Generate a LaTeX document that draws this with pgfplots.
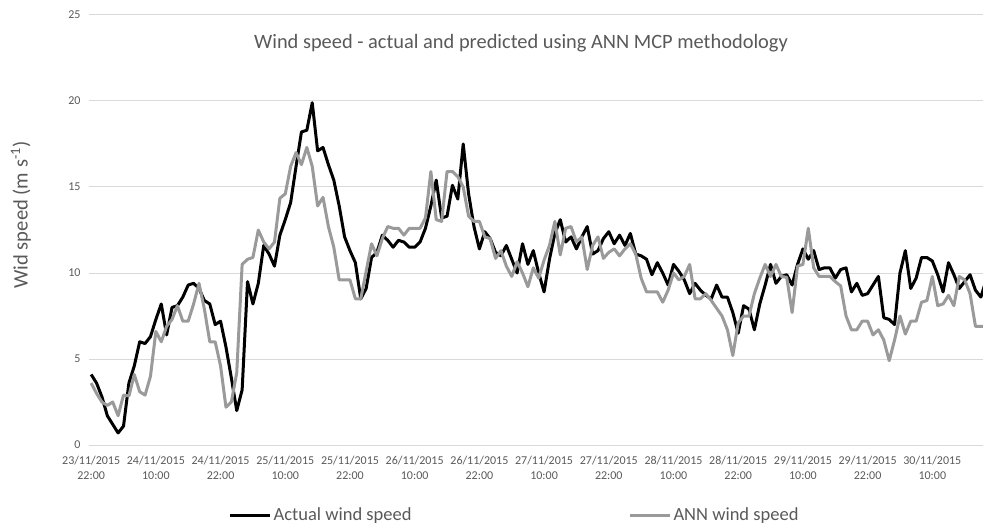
\documentclass[border=0pt]{standalone}
\usepackage{pgfplots}
\usepackage{pgfplotstable}
\pgfplotsset{compat=1.18}
\usepackage{fontspec}
\setmainfont{Carlito}
\definecolor{txtgrey}{HTML}{595959}
\definecolor{gridgrey}{HTML}{D9D9D9}
\definecolor{anngrey}{HTML}{9A9A9A}

% hourly values from 23/11/2015 22:00
\pgfplotstableread{
h act ann
0 4.1 3.6
1 3.6 3.0
2 2.8 2.5
3 1.7 2.3
4 1.2 2.5
5 0.7 1.7
6 1.1 2.9
7 3.6 2.85
8 4.6 4.1
9 6.0 3.1
10 5.9 2.9
11 6.3 4.0
12 7.3 6.6
13 8.2 6.0
14 6.4 6.9
15 8.0 7.3
16 8.1 8.1
17 8.6 7.2
18 9.3 7.2
19 9.4 8.2
20 9.1 9.4
21 8.4 7.9
22 8.2 6.0
23 7.0 6.0
24 7.2 4.6
25 5.7 2.2
26 3.9 2.5
27 2.0 4.2
28 3.2 10.5
29 9.5 10.8
30 8.2 10.9
31 9.4 12.5
32 11.6 11.8
33 11.1 11.4
34 10.4 11.8
35 12.2 14.35
36 13.1 14.6
37 14.1 16.2
38 16.2 17.0
39 18.2 16.3
40 18.3 17.3
41 19.9 16.2
42 17.1 13.9
43 17.3 14.4
44 16.3 12.7
45 15.4 11.5
46 13.9 9.6
47 12.1 9.6
48 11.3 9.6
49 10.6 8.5
50 8.5 8.5
51 9.1 10.1
52 10.9 11.7
53 11.2 11.0
54 12.2 12.0
55 11.9 12.7
56 11.5 12.6
57 11.9 12.6
58 11.8 12.2
59 11.5 12.6
60 11.5 12.6
61 11.8 12.6
62 12.6 13.2
63 13.9 15.9
64 15.4 13.1
65 13.2 13.0
66 13.3 15.9
67 15.1 15.9
68 14.3 15.6
69 17.5 15.0
70 14.6 13.3
71 12.7 13.0
72 11.4 13.0
73 12.4 12.1
74 12.0 12.0
75 11.2 10.85
76 11.0 11.3
77 11.6 10.4
78 10.8 9.8
79 10.0 10.65
80 11.7 10.0
81 10.5 9.2
82 11.3 10.3
83 10.0 9.7
84 8.9 10.75
85 10.8 11.6
86 12.3 13.0
87 13.1 11.05
88 11.8 12.6
89 12.1 12.7
90 11.4 11.8
91 12.1 12.1
92 12.7 10.2
93 11.1 11.6
94 11.3 12.1
95 12.0 10.85
96 12.4 11.2
97 11.7 11.4
98 12.2 11.0
99 11.6 11.4
100 12.3 11.7
101 11.1 11.1
102 11.0 9.7
103 10.8 8.9
104 9.9 8.9
105 10.6 8.9
106 10.0 8.3
107 9.3 9.0
108 10.5 10.0
109 10.1 9.6
110 9.6 9.8
111 8.8 10.5
112 9.4 8.5
113 9.0 8.5
114 8.7 8.8
115 8.5 8.4
116 9.3 7.95
117 8.6 7.5
118 8.6 6.7
119 7.7 5.2
120 6.5 7.1
121 8.1 7.5
122 7.9 7.5
123 6.7 8.8
124 8.2 9.7
125 9.3 10.5
126 10.5 9.8
127 9.4 10.5
128 9.8 9.8
129 9.9 9.75
130 9.3 7.7
131 10.5 10.4
132 11.4 10.5
133 10.8 12.6
134 11.3 10.3
135 10.2 9.8
136 10.3 9.8
137 10.3 9.8
138 9.7 9.5
139 10.2 9.25
140 10.3 7.5
141 8.9 6.7
142 9.4 6.7
143 8.7 7.2
144 8.8 7.2
145 9.3 6.4
146 9.8 6.7
147 7.4 6.1
148 7.3 4.9
149 7.0 6.1
150 10.0 7.5
151 11.3 6.45
152 9.1 7.2
153 9.7 7.2
154 10.9 8.3
155 10.9 8.4
156 10.7 9.8
157 9.9 8.1
158 8.9 8.2
159 10.6 8.7
160 9.9 8.1
161 9.1 9.8
162 9.5 9.6
163 9.9 8.8
164 9.0 6.9
165 8.6 6.9
166 9.6 6.9
}\wind

\begin{document}
\begin{tikzpicture}[x=1pt,y=1pt]
\path[use as bounding box] (0,0) rectangle (983,525);
\begin{axis}[
    at={(89pt,80pt)}, anchor=south west,
    scale only axis, width=894pt, height=430pt,
    xmin=-0.4, xmax=165.4, ymin=0, ymax=25,
    ytick={0,5,...,25},
    xtick={0,12,...,156},
    xticklabels={{23/11/2015\\22:00},{24/11/2015\\10:00},{24/11/2015\\22:00},
        {25/11/2015\\10:00},{25/11/2015\\22:00},{26/11/2015\\10:00},
        {26/11/2015\\22:00},{27/11/2015\\10:00},{27/11/2015\\22:00},
        {28/11/2015\\10:00},{28/11/2015\\22:00},{29/11/2015\\10:00},
        {29/11/2015\\22:00},{30/11/2015\\10:00}},
    xticklabel style={align=center, font=\fontsize{12}{15}\selectfont, text=txtgrey, yshift=-8pt},
    yticklabel style={font=\fontsize{12}{14}\selectfont, text=txtgrey, xshift=-5pt},
    /pgf/number format/assume math mode=true,
    axis line style={draw=none},
    major tick length=0pt,
    ymajorgrids,
    grid style={gridgrey, line width=1pt},
    legend columns=2,
    legend style={at={(0.476,-0.163)}, anchor=center, draw=none, fill=none,
        font=\fontsize{18.5}{22}\selectfont, text=txtgrey,
        /tikz/every even column/.append style={column sep=215pt}},
    legend image code/.code={\draw[#1] (0pt,0pt) -- (40pt,0pt);},
]
\addplot[black, line width=3pt, line join=round] table[x=h, y=act] {\wind};
\addlegendentry{Actual wind speed}
\addplot[anngrey, line width=3pt, line join=round] table[x=h, y=ann] {\wind};
\addlegendentry{ANN wind speed}
\end{axis}
\node[text=txtgrey, font=\fontsize{20.4}{24}\selectfont] at (521,482)
    {Wind speed - actual and predicted using ANN MCP methodology};
\node[text=txtgrey, font=\fontsize{20.6}{24}\selectfont, rotate=90] at (21,310)
    {Wid speed (m s\textsuperscript{-1})};
\end{tikzpicture}
\end{document}
